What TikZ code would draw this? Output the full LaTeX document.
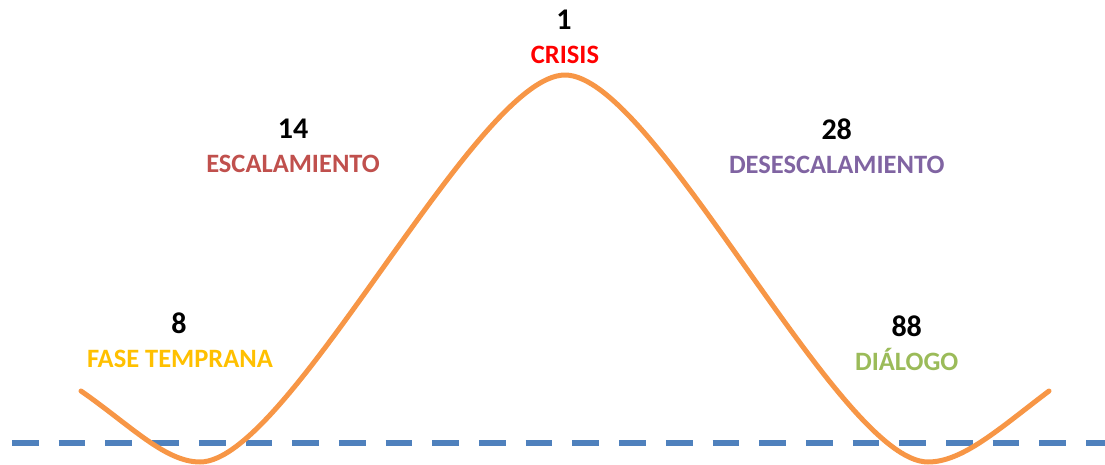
\documentclass[tikz,border=0pt]{standalone}
\usepackage{fontspec}
\setmainfont{Carlito}
\definecolor{curveorange}{HTML}{F79646}
\definecolor{baseblue}{HTML}{4F81BD}
\definecolor{fasegold}{HTML}{FFC000}
\definecolor{escred}{HTML}{C0504D}
\definecolor{crisisred}{HTML}{FF0000}
\definecolor{despurple}{HTML}{8064A2}
\definecolor{diagreen}{HTML}{9BBB59}
\tikzset{
  numlabel/.style={anchor=base, inner sep=0pt, font=\fontsize{30}{36}\selectfont\bfseries, text=black},
  phaselabel/.style={anchor=base, inner sep=0pt, font=\fontsize{26.5}{32}\selectfont\bfseries},
  curveline/.style={draw=curveorange, line width=5pt, line cap=round, line join=round},
  baseline/.style={draw=baseblue, line width=6.7pt, dash pattern=on 26.7pt off 20pt}
}
\begin{document}
\begin{tikzpicture}[x=1pt,y=-1pt]
\useasboundingbox (0,0) rectangle (1105,465);
% baseline dashed
\coordinate (bl) at (12,443);
\coordinate (br) at (1110,443);
\draw[baseline] (bl) -- (br);
% curve
\coordinate (c0) at (81,391);
\coordinate (c1) at (200,462);
\coordinate (c2) at (565,75);
\coordinate (c3) at (928,462);
\coordinate (c4) at (1049,391);
\draw[curveline] (c0) .. controls (130,425) and (165,462) .. (c1)
  .. controls (289,462) and (476,75) .. (c2)
  .. controls (654,75) and (839,462) .. (c3)
  .. controls (963,462) and (1000,428) .. (c4);
% labels
\node[numlabel] (n8) at (179,333) {8};
\node[phaselabel, text=fasegold] (fase) at (180,367) {FASE TEMPRANA};
\node[numlabel] (n14) at (293,138.3) {14};
\node[phaselabel, text=escred] (esc) at (293,172.7) {ESCALAMIENTO};
\node[numlabel] (n1) at (564,29.5) {1};
\node[phaselabel, text=crisisred] (cri) at (565,63.3) {CRISIS};
\node[numlabel] (n28) at (836.7,140) {28};
\node[phaselabel, text=despurple] (des) at (836.7,173.3) {DESESCALAMIENTO};
\node[numlabel] (n88) at (906.7,336) {88};
\node[phaselabel, text=diagreen] (dia) at (906.7,370) {DIÁLOGO};
\end{tikzpicture}
\end{document}
